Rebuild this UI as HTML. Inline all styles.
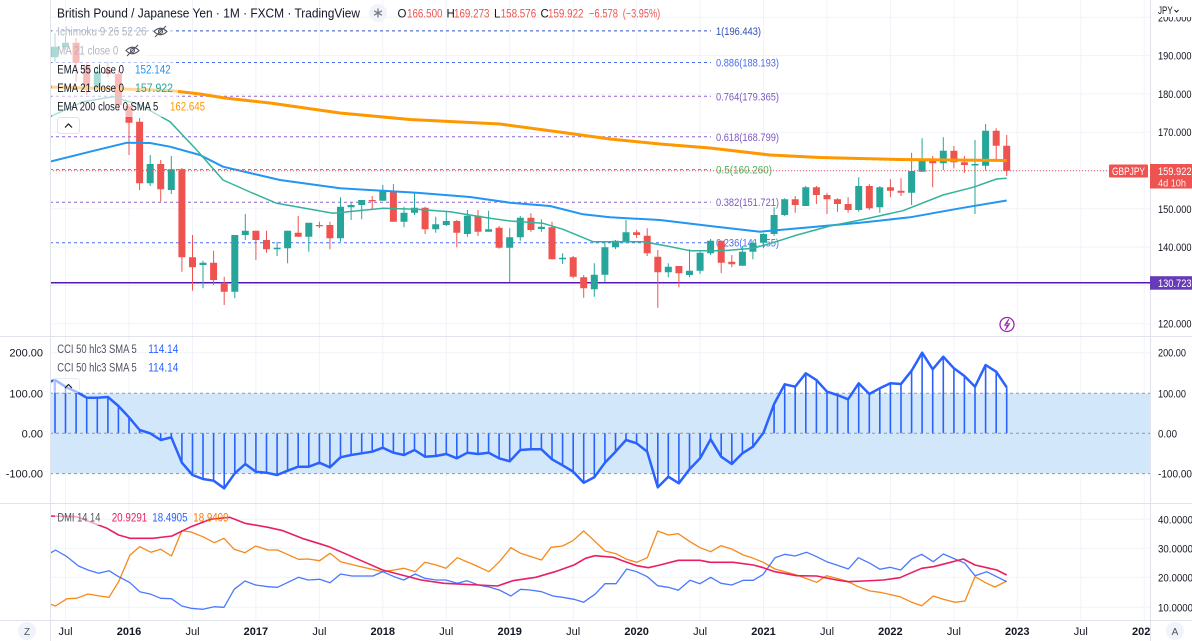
<!DOCTYPE html>
<html><head><meta charset="utf-8"><style>
html,body{margin:0;padding:0;background:#fff;overflow:hidden}
svg{display:block}
</style></head><body>
<svg width="1192" height="641" viewBox="0 0 1192 641" xmlns="http://www.w3.org/2000/svg" font-family="'Liberation Sans', Arial, sans-serif">
<defs>
<clipPath id="cm"><rect x="50" y="0" width="1100" height="336"/></clipPath>
<clipPath id="cc"><rect x="50" y="336" width="1100" height="167"/></clipPath>
<clipPath id="cd"><rect x="50" y="503" width="1100" height="117"/></clipPath>
<clipPath id="ct"><rect x="50" y="620" width="1100" height="21"/></clipPath>
<clipPath id="cr"><rect x="1150" y="0" width="42" height="641"/></clipPath>
</defs>
<rect width="1192" height="641" fill="#fff"/>

<!-- vertical grid -->
<g stroke="#f0f3fa" stroke-width="1">
<path d="M65.5 0V620M129 0V620M192.5 0V620M255.9 0V620M319.4 0V620M382.8 0V620M446.3 0V620M509.7 0V620M573.2 0V620M636.6 0V620M700.1 0V620M763.5 0V620M827 0V620M890.4 0V620M953.9 0V620M1017.3 0V620M1080.8 0V620M1144.2 0V620"/>
<path d="M50 17.3H1150M50 55.6H1150M50 93.9H1150M50 132.2H1150M50 170.5H1150M50 208.8H1150M50 247.1H1150M50 285.4H1150M50 323.7H1150"/>
<path d="M50 352.7H1150M50 519.3H1150M50 548.3H1150M50 577.3H1150M50 607.3H1150"/>
</g>

<!-- MAIN PANE -->
<g clip-path="url(#cm)">
<!-- fib lines -->
<g stroke-width="1" stroke-dasharray="3 3" fill="none">
<path d="M50 30.9H711" stroke="#2f52c4"/>
<path d="M50 62.5H711" stroke="#4a6cf0"/>
<path d="M50 96.3H711" stroke="#8a63d2"/>
<path d="M50 136.8H711" stroke="#8a63d2"/>
<path d="M50 169.5H711" stroke="#5cae5f"/>
<path d="M50 202.2H711" stroke="#8a63d2"/>
<path d="M50 242.7H711" stroke="#4a6cf0"/>
</g>
<g font-size="11">
<text x="716" y="34.9" fill="#2f4fb0" textLength="45" lengthAdjust="spacingAndGlyphs">1(196.443)</text>
<text x="716" y="66.5" fill="#4a6cf0" textLength="63" lengthAdjust="spacingAndGlyphs">0.886(188.193)</text>
<text x="716" y="100.3" fill="#7e57c2" textLength="63" lengthAdjust="spacingAndGlyphs">0.764(179.365)</text>
<text x="716" y="140.8" fill="#7e57c2" textLength="63" lengthAdjust="spacingAndGlyphs">0.618(168.799)</text>
<text x="716" y="173.5" fill="#4caf50" textLength="56" lengthAdjust="spacingAndGlyphs">0.5(160.260)</text>
<text x="716" y="206.2" fill="#7e57c2" textLength="63" lengthAdjust="spacingAndGlyphs">0.382(151.721)</text>
<text x="716" y="246.7" fill="#4a6cf0" textLength="63" lengthAdjust="spacingAndGlyphs">0.236(141.155)</text>
</g>
<!-- purple horizontal -->
<path d="M50 282.8H1150" stroke="#5515b8" stroke-width="1.5"/>

<!-- candles -->
<path stroke="#26a69a" stroke-width="1" fill="none" d="M55 33V62 M65.5 36V50 M97.3 66V92 M150.2 155V186 M171.3 156V194 M203 260.7V288.3 M234.8 235V298.3 M245.3 214V240 M277.1 241.7V256 M287.6 230.7V263.3 M308.8 222.7V251.7 M340.5 197.3V241.7 M351.1 202.7V220 M361.7 200V219.3 M382.8 185V200.7 M404 206.7V227.3 M414.5 193.3V215 M435.7 216.7V232.7 M446.3 211.7V226 M467.4 210V236.7 M488.6 210.7V231.7 M509.7 228.3V282.3 M520.3 216V240.7 M541.4 219.3V231.7 M562.6 253.3V264 M594.3 263.3V296.7 M604.9 242.7V282.3 M615.5 240V249 M626 220V241.7 M668.3 263.3V277.3 M689.5 249.3V277.3 M700.1 251.7V274 M710.6 239V255 M742.4 246V265.7 M752.9 240.7V259.3 M763.5 233.3V248.3 M774.1 207.3V236 M784.7 198.3V216 M805.8 186V206 M858.7 177.3V211.7 M879.8 186V212.7 M911.6 152.7V205 M922.1 138.3V171.7 M943.3 137.3V170 M975 140V214 M985.6 124V170.7"/>
<path fill="#26a69a" d="M51.5 46.7h7V57.3h-7z M62 42.7h7V47.3h-7z M93.8 71.7h7V88.3h-7z M146.7 164h7V183.3h-7z M167.8 169.3h7V190h-7z M199.5 262.7h7V265h-7z M231.3 235h7V291.7h-7z M241.8 230.7h7V235h-7z M273.6 247.7h7V249.3h-7z M284.1 230.7h7V248.3h-7z M305.3 222.7h7V236.7h-7z M337 206.7h7V238.3h-7z M347.6 205h7V207.3h-7z M358.2 200h7V205h-7z M379.3 190.7h7V200.7h-7z M400.5 212.7h7V221.7h-7z M411 207.7h7V212.7h-7z M432.2 224.3h7V229.3h-7z M442.8 221h7V225h-7z M463.9 215.7h7V234h-7z M485.1 229.3h7V231.7h-7z M506.2 237.3h7V247.7h-7z M516.8 217.7h7V237.3h-7z M537.9 226.7h7V229h-7z M559.1 257.7h7V259.3h-7z M590.8 274.7h7V289.3h-7z M601.4 247.3h7V274.7h-7z M612 240.7h7V247.3h-7z M622.5 232.3h7V241.7h-7z M664.8 266.7h7V272.3h-7z M686 270.7h7V275h-7z M696.6 252.7h7V270.7h-7z M707.1 240.7h7V253.3h-7z M738.9 251.7h7V265.7h-7z M749.4 242.7h7V251.7h-7z M760 234h7V242.7h-7z M770.6 215h7V234h-7z M781.2 199.3h7V215h-7z M802.3 187.3h7V206h-7z M855.2 186h7V210h-7z M876.3 187.3h7V207.3h-7z M908.1 171h7V192.7h-7z M918.6 159.3h7V171.7h-7z M939.8 150.7h7V163.3h-7z M971.5 164h7V165.5h-7z M982.1 130.7h7V165.7h-7z"/>
<path stroke="#ef5350" stroke-width="1" fill="none" d="M76.1 38V81.7 M86.7 62V95 M107.9 61.7V77.3 M118.4 70V110 M129 104V155 M139.6 118V190 M160.7 160V201.7 M181.9 168V271.7 M192.5 235V290.7 M213.6 250.7V285 M224.2 276.7V305 M255.9 230.7V260 M266.5 230.7V252.7 M298.2 216V236.7 M319.4 221.7V228 M329.9 221.7V249.3 M372.2 196V210 M393.4 184V221.7 M425.1 206.7V234 M456.8 220V247.3 M478 210V236 M499.1 226V248.7 M530.9 213.3V231.7 M552 221.7V259.3 M573.2 256V278.3 M583.7 275V297.7 M636.6 230V238 M647.2 228.3V256 M657.8 250V307.7 M678.9 266V287.3 M721.2 240.7V273.3 M731.8 255V267.3 M795.2 196V212.7 M816.4 186V204 M827 192.7V214 M837.5 198.3V211.7 M848.1 197.3V212.7 M869.3 184V210 M890.4 179.3V197.3 M901 178.3V196 M932.7 156V187.3 M953.9 146V168.3 M964.4 156V172.7 M996.2 128.3V159 M1006.7 135V176"/>
<path fill="#ef5350" d="M72.6 42.7h7V62.7h-7z M83.2 66h7V90h-7z M104.4 70h7V74h-7z M114.9 74h7V105h-7z M125.5 106h7V122.7h-7z M136.1 121.7h7V183.3h-7z M157.2 164h7V189.3h-7z M178.4 169.3h7V257.3h-7z M189 257.3h7V267.3h-7z M210.1 262.7h7V280h-7z M220.7 282.7h7V291.7h-7z M252.4 230.7h7V240h-7z M263 240h7V249.3h-7z M294.7 232.7h7V236.7h-7z M315.9 225h7V226.2h-7z M326.4 225h7V238.3h-7z M368.7 200h7V201.2h-7z M389.9 190.7h7V221.7h-7z M421.6 207.7h7V229.3h-7z M453.3 221h7V232.7h-7z M474.5 215.7h7V231.7h-7z M495.6 227.7h7V247.7h-7z M527.4 217.7h7V230h-7z M548.5 227.3h7V259.3h-7z M569.7 257.3h7V276.7h-7z M580.2 277.3h7V288.3h-7z M633.1 232.3h7V235h-7z M643.7 235.7h7V253.3h-7z M654.3 256.7h7V272.3h-7z M675.4 266h7V273.3h-7z M717.7 240.7h7V262.7h-7z M728.3 261.7h7V264.3h-7z M791.7 199.3h7V205h-7z M812.9 187.3h7V195h-7z M823.5 195h7V199.3h-7z M834 199.3h7V204h-7z M844.6 204h7V210h-7z M865.8 186h7V208.3h-7z M886.9 187.3h7V190.7h-7z M897.5 190.7h7V192.7h-7z M929.2 159.3h7V163.3h-7z M950.4 150.7h7V162.3h-7z M960.9 162.3h7V165h-7z M992.7 130.7h7V145.7h-7z M1003.2 145.7h7V170.8h-7z"/>

<!-- EMAs -->
<polyline fill="none" stroke="#ff9800" stroke-width="3" stroke-linejoin="round" points="50,87 110,88.5 170,90.5 200,94 225,98 270,103 340,113 410,119.5 450,121.5 500,124 563,132.5 610,139 660,144 710,148 770,155 820,157.5 860,158.5 900,159.5 1007,160.5"/>
<polyline fill="none" stroke="#2196f3" stroke-width="2" stroke-linejoin="round" points="50,161.7 90,151.7 127,142.7 150,143 170,146.7 200,155 223,166.7 280,180 340,188.3 416.7,192.7 470,197 510,202.7 550,206 583,214.3 610,217.3 660,220 710,226 760,231.7 810,227.3 860,222.7 910,217.3 960,208.3 1006.7,200.5"/>
<polyline fill="none" stroke="#34b39a" stroke-width="1.5" stroke-linejoin="round" points="50,116.7 83,101.7 113,96.7 140,105 170,121.7 196.7,150 223,180 250,192 276.7,203.3 333,213.3 383,208.3 416.7,209.3 450,211.7 490,218.3 510,221 543,223.3 563,229.3 593,241.7 620,241.7 643,241.7 667,246 690,250.7 723,250.7 753,248.3 773,242.7 797,235 830,226 863,219.5 903,210.7 943,195 973,187.3 996.7,179 1006.7,178.3"/>

<!-- price line -->
<path d="M50 170.8H1108" stroke="#ef5350" stroke-width="1" stroke-dasharray="1 2"/>

<!-- lightning icon -->
<circle cx="1007" cy="324.5" r="7" fill="#fff" stroke="#9c27b0" stroke-width="1.3"/>
<path d="M1008.6 319.5L1004.6 325.2H1007.6L1005.6 329.5L1009.6 323.8H1006.6Z" fill="none" stroke="#9c27b0" stroke-width="1" stroke-linejoin="round"/>

<!-- legend backgrounds -->
<g fill="#fff" fill-opacity="0.6">
<rect x="52" y="22" width="122" height="19"/>
<rect x="52" y="41" width="96" height="19"/>
<rect x="52" y="60" width="122" height="19"/>
<rect x="52" y="79" width="126" height="19"/>
<rect x="52" y="98" width="156" height="19"/>
</g>
</g>

<!-- main legend text -->
<text x="57" y="17.5" font-size="13" fill="#131722" textLength="303" lengthAdjust="spacingAndGlyphs">British Pound / Japanese Yen · 1M · FXCM · TradingView</text>
<circle cx="378" cy="13" r="9" fill="#f0f3fa"/>
<g stroke="#787b86" stroke-width="1.3"><path d="M378 8.5V17.5M374.1 10.8L381.9 15.2M374.1 15.2L381.9 10.8"/></g>
<g font-size="11.5">
<text x="397.5" y="17.5" fill="#131722">O</text>
<text x="407" y="17.5" fill="#ef5350" textLength="35.5" lengthAdjust="spacingAndGlyphs">166.500</text>
<text x="446.5" y="17.5" fill="#131722">H</text>
<text x="454" y="17.5" fill="#ef5350" textLength="35.5" lengthAdjust="spacingAndGlyphs">169.273</text>
<text x="494" y="17.5" fill="#131722">L</text>
<text x="500.7" y="17.5" fill="#ef5350" textLength="35.5" lengthAdjust="spacingAndGlyphs">158.576</text>
<text x="540.5" y="17.5" fill="#131722">C</text>
<text x="548" y="17.5" fill="#ef5350" textLength="35.5" lengthAdjust="spacingAndGlyphs">159.922</text>
<text x="589" y="17.5" fill="#ef5350" textLength="29" lengthAdjust="spacingAndGlyphs">−6.578</text>
<text x="622.7" y="17.5" fill="#ef5350" textLength="37.5" lengthAdjust="spacingAndGlyphs">(−3.95%)</text>

<text x="57.3" y="35.5" fill="#b2b5be" textLength="89.4" lengthAdjust="spacingAndGlyphs">Ichimoku 9 26 52 26</text>
<text x="57.3" y="54.5" fill="#b2b5be" textLength="61" lengthAdjust="spacingAndGlyphs">MA 21 close 0</text>
<text x="57.3" y="73.3" fill="#131722" textLength="66.7" lengthAdjust="spacingAndGlyphs">EMA 55 close 0</text>
<text x="135" y="73.3" fill="#2196f3" textLength="35.7" lengthAdjust="spacingAndGlyphs">152.142</text>
<text x="57.3" y="92" fill="#131722" textLength="66.7" lengthAdjust="spacingAndGlyphs">EMA 21 close 0</text>
<text x="135" y="92" fill="#26a69a" textLength="38" lengthAdjust="spacingAndGlyphs">157.922</text>
<text x="57.3" y="110.7" fill="#131722" textLength="101" lengthAdjust="spacingAndGlyphs">EMA 200 close 0 SMA 5</text>
<text x="170" y="110.7" fill="#ff9800" textLength="35" lengthAdjust="spacingAndGlyphs">162.645</text>
</g>
<!-- eye-slash icons -->
<g fill="none" stroke="#50535e" stroke-width="1.1">
<path d="M154 31.5Q160.5 25 167 31.5Q160.5 38 154 31.5Z"/><circle cx="160.5" cy="31.5" r="2"/><path d="M155 37L166 26"/>
<path d="M126 50.5Q132.5 44 139 50.5Q132.5 57 126 50.5Z"/><circle cx="132.5" cy="50.5" r="2"/><path d="M127 56L138 45"/>
</g>
<rect x="57.5" y="117.5" width="22" height="16" rx="3" fill="#fff" stroke="#e0e3eb"/>
<path d="M65 127.5L68.5 124L72 127.5" fill="none" stroke="#131722" stroke-width="1.2"/>

<!-- CCI PANE -->
<g clip-path="url(#cc)">
<rect x="50" y="393.3" width="1100" height="80.3" fill="#d3e7fb"/>
<g stroke="#9598a1" stroke-width="1" stroke-dasharray="3 3">
<path d="M50 393.3H1150M50 433.3H1150M50 473.6H1150"/>
</g>
<path stroke="#2962ff" stroke-width="1.6" fill="none" d="M55 433.3V380M65.5 433.3V386.7M76.1 433.3V391.7M86.7 433.3V397.7M97.3 433.3V397.7M107.9 433.3V397M118.4 433.3V406M129 433.3V417.3M139.6 433.3V430M160.7 433.3V440M171.3 433.3V437.3M181.9 433.3V462.7M192.5 433.3V475M203 433.3V479M213.6 433.3V480.7M224.2 433.3V488.3M234.8 433.3V473.3M245.3 433.3V464M255.9 433.3V471.7M266.5 433.3V472.7M277.1 433.3V475M287.6 433.3V470.7M298.2 433.3V466.7M308.8 433.3V466.7M319.4 433.3V462.7M329.9 433.3V467.3M340.5 433.3V457.3M351.1 433.3V455M361.7 433.3V453.3M372.2 433.3V451.7M382.8 433.3V447.7M393.4 433.3V452.7M404 433.3V455M414.5 433.3V450M425.1 433.3V456.7M435.7 433.3V456M446.3 433.3V454M456.8 433.3V458.3M467.4 433.3V452.7M478 433.3V454M488.6 433.3V452.7M499.1 433.3V458.3M509.7 433.3V461.3M520.3 433.3V450M530.9 433.3V449.3M541.4 433.3V449.3M552 433.3V459.3M562.6 433.3V465.3M573.2 433.3V471.7M583.7 433.3V482.7M594.3 433.3V477.3M604.9 433.3V462.7M615.5 433.3V451.7M626 433.3V440M636.6 433.3V443.3M647.2 433.3V451.7M657.8 433.3V487.3M668.3 433.3V476.7M678.9 433.3V483.3M689.5 433.3V469.3M700.1 433.3V458.3M710.6 433.3V439.3M721.2 433.3V456.7M731.8 433.3V464M742.4 433.3V453.3M752.9 433.3V446.7M774.1 433.3V404M784.7 433.3V384.3M795.2 433.3V386.7M805.8 433.3V373.3M816.4 433.3V380M827 433.3V391.7M837.5 433.3V395M848.1 433.3V399.3M858.7 433.3V383.3M869.3 433.3V394M879.8 433.3V388.3M890.4 433.3V383.3M901 433.3V384M911.6 433.3V370.7M922.1 433.3V352.7M932.7 433.3V369.3M943.3 433.3V356.7M953.9 433.3V368.3M964.4 433.3V376M975 433.3V386.7M985.6 433.3V365M996.2 433.3V371.7M1006.7 433.3V387.3"/>
<polyline fill="none" stroke="#2962ff" stroke-width="2.5" stroke-linejoin="round" points="50,381.7 55,380 65.5,386.7 76.1,391.7 86.7,397.7 97.3,397.7 107.9,397 118.4,406 129,417.3 139.6,430 150.2,433.3 160.7,440 171.3,437.3 181.9,462.7 192.5,475 203,479 213.6,480.7 224.2,488.3 234.8,473.3 245.3,464 255.9,471.7 266.5,472.7 277.1,475 287.6,470.7 298.2,466.7 308.8,466.7 319.4,462.7 329.9,467.3 340.5,457.3 351.1,455 361.7,453.3 372.2,451.7 382.8,447.7 393.4,452.7 404,455 414.5,450 425.1,456.7 435.7,456 446.3,454 456.8,458.3 467.4,452.7 478,454 488.6,452.7 499.1,458.3 509.7,461.3 520.3,450 530.9,449.3 541.4,449.3 552,459.3 562.6,465.3 573.2,471.7 583.7,482.7 594.3,477.3 604.9,462.7 615.5,451.7 626,440 636.6,443.3 647.2,451.7 657.8,487.3 668.3,476.7 678.9,483.3 689.5,469.3 700.1,458.3 710.6,439.3 721.2,456.7 731.8,464 742.4,453.3 752.9,446.7 763.5,432.7 774.1,404 784.7,384.3 795.2,386.7 805.8,373.3 816.4,380 827,391.7 837.5,395 848.1,399.3 858.7,383.3 869.3,394 879.8,388.3 890.4,383.3 901,384 911.6,370.7 922.1,352.7 932.7,369.3 943.3,356.7 953.9,368.3 964.4,376 975,386.7 985.6,365 996.2,371.7 1006.7,387.3"/>
<rect x="53.5" y="378.5" width="26" height="14" rx="3" fill="#fff" fill-opacity="0.55" stroke="#e0e3eb" stroke-opacity="0.7"/>
<path d="M65 388L68.5 384.5L72 388" fill="none" stroke="#131722" stroke-width="1.1"/>
</g>
<g font-size="11.5">
<text x="57.3" y="353" fill="#50535e" textLength="79.4" lengthAdjust="spacingAndGlyphs">CCI 50 hlc3 SMA 5</text>
<text x="148.3" y="353" fill="#2962ff" textLength="30" lengthAdjust="spacingAndGlyphs">114.14</text>
<text x="57.3" y="371.7" fill="#50535e" textLength="79.4" lengthAdjust="spacingAndGlyphs">CCI 50 hlc3 SMA 5</text>
<text x="148.3" y="371.7" fill="#2962ff" textLength="30" lengthAdjust="spacingAndGlyphs">114.14</text>
</g>

<!-- DMI PANE -->
<g clip-path="url(#cd)" fill="none" stroke-width="1.3" stroke-linejoin="round">
<polyline stroke="#f57c00" stroke-opacity="0.9" points="50,604 55.5,606 67,598.7 76.5,598.3 88,594 99.5,596 109,597.3 118.6,581.7 130,555 139.7,546.7 151,552.3 160.7,549.3 171.5,556 181.8,530.7 191,532 202.8,536.7 214.3,542.7 224,538.3 234.2,549.3 245,552.7 255.6,546 268,550 277.5,550 298.5,559.3 308,559 319.6,560.7 330,553.3 340.6,561.7 357.8,566 382.7,571.7 394.2,570 403.7,568.3 415.2,571.7 424.8,562.3 436.3,565 445.8,568.3 457.3,557.7 474.5,565 489,571.7 499.4,561.7 510.9,547.7 520.5,553.3 541.5,560 551,547.3 562.6,546 572.9,540.7 583.6,531 590,536.7 605,551 616,553.7 626.7,559.3 636.7,562.3 647.3,557.7 657.7,531 668.3,535 678.3,533.7 690,541.7 700,547.7 710.7,551.7 721,545.7 731.7,549 743.3,555 753.3,558.3 763.3,562.3 775,569 796.7,575 816.7,582.3 826.7,575.7 846.7,581 858.3,586.7 870,591 880,592.3 900,596.7 911.7,602.3 921.7,605.7 933.3,596 943.3,599.3 955,602.3 965,601 975,576.7 986.7,583.3 995,587 1006.7,581"/>
<polyline stroke="#2962ff" stroke-opacity="0.85" points="50,553.3 55.5,550 67,556.7 78.5,566 88,570 98.7,573.3 109,570.7 118.6,576.7 130,582.7 139.7,591.7 151,594.3 160.7,598.3 171.5,598.7 181.8,606 191,608.3 202.8,609.3 214.3,606.7 224,607.3 234.2,589.3 245,581 255.6,585 268,586.7 277.5,587.3 298.5,577.3 308,580 319.6,579.3 330,582.7 340.6,574 352,576 373,576 382.7,571.7 394.2,576.7 403.7,580 415.2,574 424.8,578.3 436.3,580 445.8,580 457.3,583.3 466.9,580.7 478.4,585 489.9,587.3 499.4,590 510.9,596 520.5,589.3 530,590 541.5,591.7 553,596 562.6,597.3 574,599.3 583.6,602.3 590,597.7 595,594.3 605,583.7 616,583.7 626.7,569 636.7,571.7 647.3,576.7 657.7,585.7 668.3,587.3 678.3,590.3 690,580.3 700,583.7 710.7,577.3 721,583.3 731.7,585 743.3,580.3 753.3,580.3 763.3,574.3 775,557.7 785,554.3 795,556 806.7,552.3 816.7,556.7 826.7,561.7 836.7,565 848.3,569 858.3,557.7 870,563.3 880,569.3 890,567.3 900.7,570 911.7,559 921.7,554.3 933.3,561.7 943.3,554 955,559 965,563.3 975,575.7 986.7,571.7 996.7,576.7 1006.7,581.7"/>
<polyline stroke="#e91e63" stroke-width="1.6" points="50,516 76.5,516.7 107,528.3 118.6,535 130,538.3 153,538.3 172,536 191,526.7 210.5,519.3 229.6,517.3 245,523.3 268,527.3 283,530.7 302,538.3 321.5,544.3 329,546.7 344.4,553.3 367.4,563.3 382.7,570 401.8,575 421,580 444,583.3 478.4,585 497.5,586 512.8,580.7 535.8,577.3 555,571.7 574,565 585.5,558.3 595,555.7 613.3,557.3 623.3,561 636.7,565.7 648.3,567.7 660,565 678.3,560.3 700,560.3 710,562.3 733.3,562.3 753.3,565 763.3,567.7 775,571.7 796.7,575.7 816.7,576 836.7,580 848.3,581.7 863.3,581 883.3,580 900,577.7 910,573.3 921.7,568.3 933.3,566.7 946.7,563.3 963.3,559 975,565 986.7,567.7 996.7,570 1006.7,575"/>
<rect x="55" y="510" width="46" height="15" fill="#fff" fill-opacity="0.6" stroke="none"/>
</g>
<g font-size="11.5">
<text x="57.4" y="521.3" fill="#50535e" textLength="43" lengthAdjust="spacingAndGlyphs">DMI 14 14</text>
<text x="111.7" y="521.3" fill="#e91e63" textLength="35.6" lengthAdjust="spacingAndGlyphs">20.9291</text>
<text x="152.3" y="521.3" fill="#2962ff" textLength="35.2" lengthAdjust="spacingAndGlyphs">18.4905</text>
<text x="193.3" y="521.3" fill="#f57c00" textLength="35.2" lengthAdjust="spacingAndGlyphs">18.9409</text>
</g>

<!-- separators -->
<g stroke="#e0e3eb" stroke-width="1">
<path d="M0 336.5H1192M0 503.5H1192M0 620.5H1192"/>
<path d="M50.5 0V641M1150.5 0V641"/>
</g>

<!-- right axis -->
<g font-size="11" fill="#131722">
<text x="1158" y="21.3" textLength="33.5" lengthAdjust="spacingAndGlyphs">200.000</text>
<rect x="1151" y="0" width="41" height="17" fill="#fff"/>
<text x="1158" y="14" textLength="14.7" lengthAdjust="spacingAndGlyphs">JPY</text>
<path d="M1174.5 10L1176.5 12L1178.5 10" fill="none" stroke="#131722" stroke-width="1"/>
<text x="1158" y="59.6" textLength="33.5" lengthAdjust="spacingAndGlyphs">190.000</text>
<text x="1158" y="97.9" textLength="33.5" lengthAdjust="spacingAndGlyphs">180.000</text>
<text x="1158" y="136.2" textLength="33.5" lengthAdjust="spacingAndGlyphs">170.000</text>
<text x="1158" y="212.8" textLength="33.5" lengthAdjust="spacingAndGlyphs">150.000</text>
<text x="1158" y="251.1" textLength="33.5" lengthAdjust="spacingAndGlyphs">140.000</text>
<text x="1158" y="327.7" textLength="33.5" lengthAdjust="spacingAndGlyphs">120.000</text>
<text x="1158" y="356.7" textLength="28" lengthAdjust="spacingAndGlyphs">200.00</text>
<text x="1158" y="397.3" textLength="28" lengthAdjust="spacingAndGlyphs">100.00</text>
<text x="1158" y="437.3" textLength="19" lengthAdjust="spacingAndGlyphs">0.00</text>
<g clip-path="url(#cr)">
<text x="1158" y="477.6" textLength="34" lengthAdjust="spacingAndGlyphs">-100.00</text>
<text x="1158" y="523.3" textLength="35" lengthAdjust="spacingAndGlyphs">40.0000</text>
<text x="1158" y="552.3" textLength="35" lengthAdjust="spacingAndGlyphs">30.0000</text>
<text x="1158" y="581.3" textLength="35" lengthAdjust="spacingAndGlyphs">20.0000</text>
<text x="1158" y="611.3" textLength="35" lengthAdjust="spacingAndGlyphs">10.0000</text>
</g>
</g>
<!-- price labels -->
<rect x="1109" y="164.5" width="39" height="13" fill="#ef5350" rx="1"/>
<text x="1128.5" y="175" font-size="11" fill="#fff" text-anchor="middle" textLength="33" lengthAdjust="spacingAndGlyphs">GBPJPY</text>
<rect x="1150" y="164" width="42" height="24.5" fill="#ef5350"/>
<text x="1158" y="175" font-size="11" fill="#fff" textLength="33.5" lengthAdjust="spacingAndGlyphs">159.922</text>
<text x="1158" y="186.5" font-size="10.5" fill="#fff" fill-opacity="0.9" textLength="28" lengthAdjust="spacingAndGlyphs">4d 10h</text>
<rect x="1150" y="276.2" width="42" height="13.5" fill="#673ab7"/>
<text x="1158" y="287" font-size="11" fill="#fff" textLength="33.5" lengthAdjust="spacingAndGlyphs">130.723</text>

<!-- left CCI axis -->
<g font-size="11" fill="#131722" text-anchor="end">
<text x="43" y="356.7">200.00</text>
<text x="43" y="397.3">100.00</text>
<text x="43" y="437.3">0.00</text>
<text x="43" y="477.6">-100.00</text>
</g>

<!-- time axis -->
<g font-size="11" fill="#131722" text-anchor="middle" clip-path="url(#ct)">
<text x="65.5" y="635">Jul</text>
<text x="129" y="635" font-weight="bold">2016</text>
<text x="192.5" y="635">Jul</text>
<text x="255.9" y="635" font-weight="bold">2017</text>
<text x="319.4" y="635">Jul</text>
<text x="382.8" y="635" font-weight="bold">2018</text>
<text x="446.3" y="635">Jul</text>
<text x="509.7" y="635" font-weight="bold">2019</text>
<text x="573.2" y="635">Jul</text>
<text x="636.6" y="635" font-weight="bold">2020</text>
<text x="700.1" y="635">Jul</text>
<text x="763.5" y="635" font-weight="bold">2021</text>
<text x="827" y="635">Jul</text>
<text x="890.4" y="635" font-weight="bold">2022</text>
<text x="953.9" y="635">Jul</text>
<text x="1017.3" y="635" font-weight="bold">2023</text>
<text x="1080.8" y="635">Jul</text>
<text x="1144.2" y="635" font-weight="bold">2024</text>
</g>
<circle cx="27" cy="631" r="9" fill="#f0f3fa"/>
<text x="27" y="635" font-size="10" fill="#50535e" text-anchor="middle">Z</text>
<circle cx="1175" cy="631" r="9" fill="#f0f3fa"/>
<text x="1175" y="635" font-size="10" fill="#50535e" text-anchor="middle">A</text>
</svg>
</body></html>
